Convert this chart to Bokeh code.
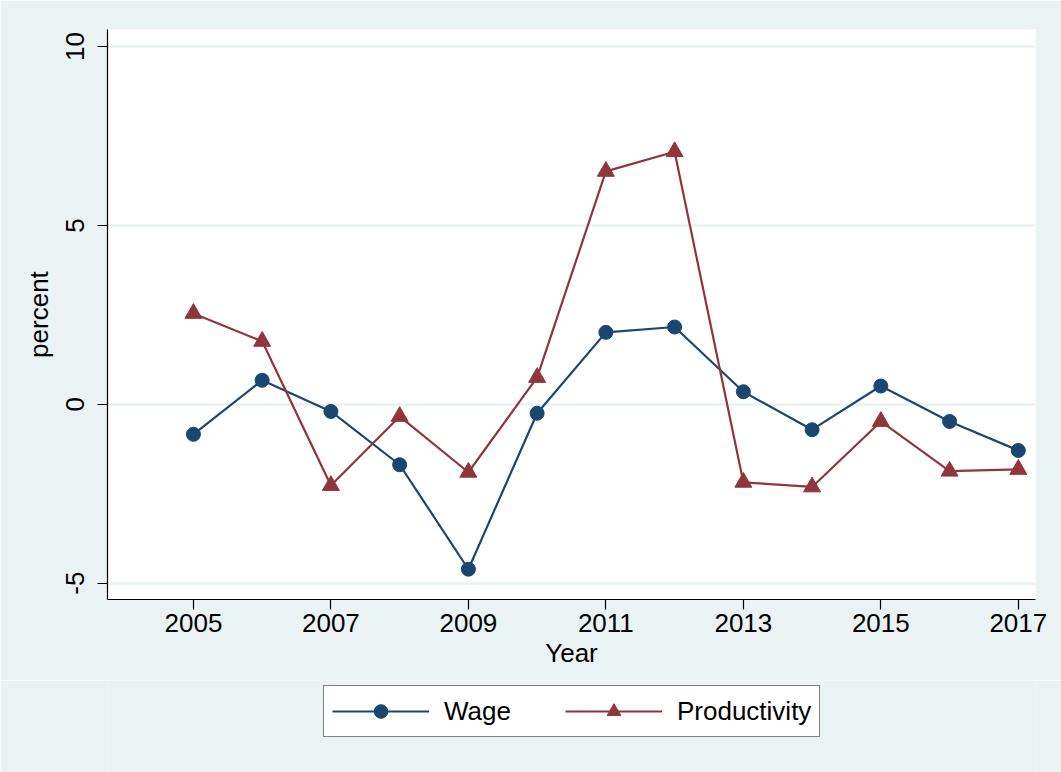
from bokeh.plotting import figure
from bokeh.layouts import column
from bokeh.models import Range1d, FixedTicker, Legend, LegendItem
from bokeh.embed import file_html
from bokeh.resources import INLINE

years = [2005, 2006, 2007, 2008, 2009, 2010, 2011, 2012, 2013, 2014, 2015, 2016, 2017]
wage = [-0.84, 0.67, -0.20, -1.69, -4.61, -0.25, 2.01, 2.16, 0.35, -0.71, 0.51, -0.48, -1.29]
productivity = [2.54, 1.76, -2.27, -0.34, -1.90, 0.75, 6.51, 7.06, -2.18, -2.31, -0.48, -1.87, -1.82]
series_names = ["Wage", "Productivity"]
x_ticks = [2005, 2007, 2009, 2011, 2013, 2015, 2017]
y_ticks = [-5, 0, 5, 10]
y_tick_labels = {-5: "-5", 0: "0", 5: "5", 10: "10"}

BG = "#EAF2F3"
NAVY = "#1A476F"
MAROON = "#90353B"
FONT = "Liberation Sans"

p = figure(frame_width=928, frame_height=570, output_backend="svg", toolbar_location=None,
           x_range=Range1d(2003.75, 2017.25), y_range=Range1d(-5.456, 10.475),
           min_border_left=107, min_border_right=26, min_border_top=29, min_border_bottom=81)

p.border_fill_color = BG
p.background_fill_color = "white"
p.outline_line_color = None

p.xgrid.visible = False
p.ygrid.ticker = FixedTicker(ticks=y_ticks)
p.ygrid.grid_line_color = BG
p.ygrid.grid_line_width = 2.5

for ax, ticks in ((p.xaxis[0], x_ticks), (p.yaxis[0], y_ticks)):
    ax.ticker = FixedTicker(ticks=ticks)
    ax.axis_line_color = "black"
    ax.axis_line_width = 1.2
    ax.major_tick_line_color = "black"
    ax.major_tick_line_width = 1.2
    ax.major_tick_out = 10
    ax.major_tick_in = 0
    ax.minor_tick_line_color = None
    ax.major_label_text_font = FONT
    ax.major_label_text_font_size = "26px"
    ax.major_label_text_color = "black"
    ax.axis_label_text_font = FONT
    ax.axis_label_text_font_size = "26px"
    ax.axis_label_text_font_style = "normal"
    ax.axis_label_text_color = "black"

p.xaxis.axis_label = "Year"
p.xaxis.major_label_standoff = 4
p.xaxis.axis_label_standoff = 3
p.yaxis.axis_label = "percent"
p.yaxis.major_label_overrides = y_tick_labels
p.yaxis.major_label_orientation = "vertical"
p.yaxis.major_label_standoff = 13
p.yaxis.axis_label_standoff = 10

p.line(years, wage, line_color=NAVY, line_width=2.2)
p.scatter(years, wage, marker="circle", size=14, fill_color=NAVY, line_color=NAVY)
p.line(years, productivity, line_color=MAROON, line_width=2.2)
p.scatter(years, productivity, marker="triangle", size=17, fill_color=MAROON, line_color=MAROON)

# legend strip below the chart (its glyph renderers sit outside the visible range)
q = figure(width=1061, height=92, output_backend="svg", toolbar_location=None,
           x_range=Range1d(0, 1), y_range=Range1d(0, 1), min_border=0)
q.axis.visible = False
q.grid.visible = False
q.border_fill_color = BG
q.background_fill_color = BG
q.outline_line_color = None

hidden = [-10]
gl1 = q.line(hidden, hidden, line_color=NAVY, line_width=2.2)
gs1 = q.scatter(hidden, hidden, marker="circle", size=14, fill_color=NAVY, line_color=NAVY)
gl2 = q.line(hidden, hidden, line_color=MAROON, line_width=2.2)
gs2 = q.scatter(hidden, hidden, marker="triangle", size=17, fill_color=MAROON, line_color=MAROON)

legend = Legend(items=[LegendItem(label=series_names[0], renderers=[gl1, gs1]),
                       LegendItem(label=series_names[1], renderers=[gl2, gs2])],
                orientation="horizontal", location=(216, 35))
legend.border_line_color = "black"
legend.border_line_width = 1.2
legend.background_fill_color = "white"
legend.background_fill_alpha = 1
legend.label_text_font = FONT
legend.label_text_font_size = "26px"
legend.label_text_color = "black"
legend.glyph_width = 97
legend.glyph_height = 34
legend.label_standoff = 15
legend.spacing = 54
legend.padding = 8
legend.margin = 0
q.add_layout(legend)

layout = column(p, q, spacing=0)
open("out.html", "w").write(file_html(layout, INLINE))
